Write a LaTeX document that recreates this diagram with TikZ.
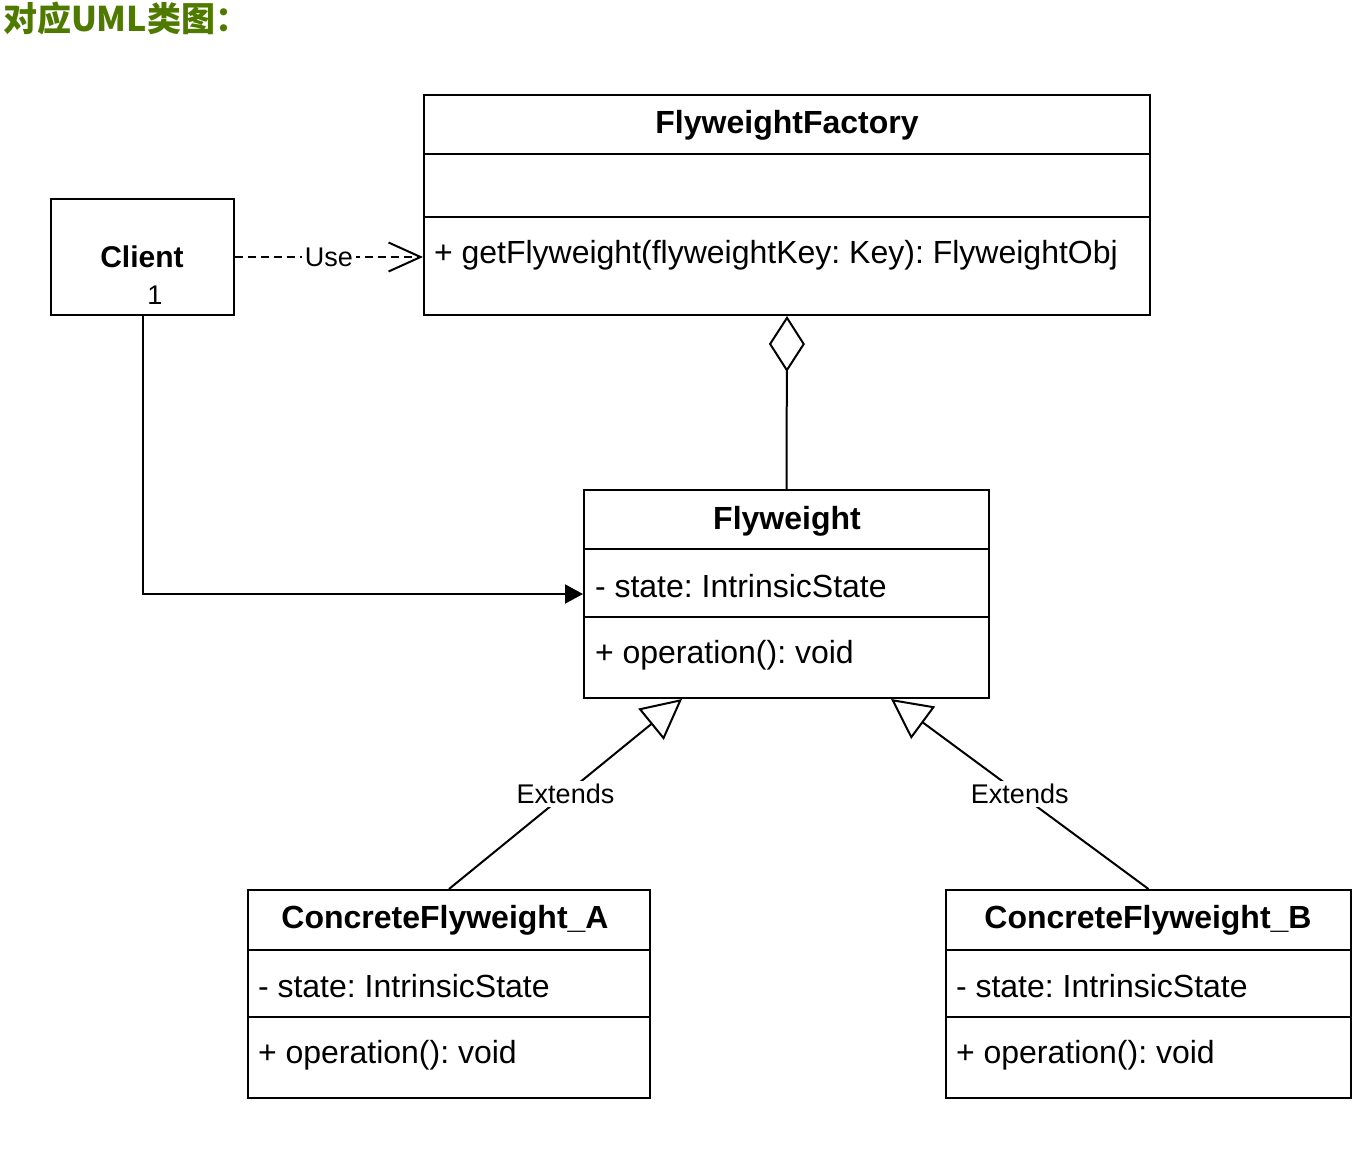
\documentclass[tikz,border=0pt]{standalone}
\usepackage{fontspec}
\setmainfont{Liberation Sans}
\newfontfamily\cjk{Noto Sans CJK SC}
\usetikzlibrary{arrows.meta}
\definecolor{titlegreen}{RGB}{79,122,0}
\frenchspacing

\begin{document}
\begin{tikzpicture}[x=1pt, y=-1pt, line width=2pt,
    classbox/.style={draw, rectangle, inner sep=0pt},
    classname/.style={inner sep=0pt, font=\fontsize{32}{38}\selectfont\bfseries},
    member/.style={anchor=west, inner sep=0pt, font=\fontsize{32}{38}\selectfont},
    edgelabel/.style={fill=white, inner sep=3pt, font=\fontsize{27}{32}\selectfont},
    usearrow/.style={dash pattern=on 8pt off 5pt, -{Straight Barb[length=32pt, width=29pt]}},
    assoc/.style={-{Triangle[length=18pt, width=19pt]}},
    agg/.style={-{Diamond[open, length=56pt, width=36pt]}},
    extends/.style={-{Triangle[open, length=40pt, width=40pt]}}]
        \useasboundingbox (0, 0) rectangle (1354, 1149);

        % Title
        \node at (2, 19) (title) [anchor=west, inner sep=0pt, text=titlegreen, font=\fontsize{34}{40}\cjk\bfseries] {对应UML类图：};

        % FlyweightFactory
        \node at (787, 205) (factory) [classbox, minimum width=726pt, minimum height=220pt] {};
        \node at (787, 125) (factoryname) [classname] {FlyweightFactory};
        \node at (433, 255) (factoryop) [member] {+ getFlyweight(flyweightKey: Key): FlyweightObj};
        \draw ([yshift=-60pt]factory.north west) -- ([yshift=-60pt]factory.north east);
        \draw ([yshift=-123pt]factory.north west) -- ([yshift=-123pt]factory.north east);

        % Client
        \node at (142.5, 257) (client) [classbox, minimum width=183pt, minimum height=116pt] {};
        \node at (142, 257) (clientname) [classname, font=\fontsize{30}{36}\selectfont\bfseries] {Client};
        \node at (155, 295) (clientmult) [inner sep=0pt, font=\fontsize{27}{32}\selectfont] {1};

        % Flyweight
        \node at (786.5, 594) (flyweight) [classbox, minimum width=405pt, minimum height=208pt] {};
        \node at (787, 521) (flyweightname) [classname] {Flyweight};
        \node at (594, 586) (flyweightstate) [member] {- state: IntrinsicState};
        \node at (594, 655) (flyweightop) [member] {+ operation(): void};
        \draw ([yshift=-60pt]flyweight.north west) -- ([yshift=-60pt]flyweight.north east);
        \draw ([yshift=-128pt]flyweight.north west) -- ([yshift=-128pt]flyweight.north east);

        % ConcreteFlyweight_A
        \node at (449, 994) (concreteA) [classbox, minimum width=402pt, minimum height=208pt] {};
        \node at (445, 920) (concreteAname) [classname] {ConcreteFlyweight\_A};
        \node at (257, 986) (concreteAstate) [member] {- state: IntrinsicState};
        \node at (257, 1055) (concreteAop) [member] {+ operation(): void};
        \draw ([yshift=-61pt]concreteA.north west) -- ([yshift=-61pt]concreteA.north east);
        \draw ([yshift=-128pt]concreteA.north west) -- ([yshift=-128pt]concreteA.north east);

        % ConcreteFlyweight_B
        \node at (1148.5, 994) (concreteB) [classbox, minimum width=405pt, minimum height=208pt] {};
        \node at (1148, 920) (concreteBname) [classname] {ConcreteFlyweight\_B};
        \node at (955, 986) (concreteBstate) [member] {- state: IntrinsicState};
        \node at (955, 1055) (concreteBop) [member] {+ operation(): void};
        \draw ([yshift=-61pt]concreteB.north west) -- ([yshift=-61pt]concreteB.north east);
        \draw ([yshift=-128pt]concreteB.north west) -- ([yshift=-128pt]concreteB.north east);

        % Relations
        \coordinate (fwA) at ([xshift=99pt]flyweight.south west);
        \coordinate (fwB) at ([xshift=-99pt]flyweight.south east);
        \draw[usearrow] (client.east) -- (client.east -| factory.west) node[midway, edgelabel] {Use};
        \draw[assoc] (client.south) |- (flyweight.west);
        \draw[agg] (flyweight.north) -- (factory.south);
        \draw[extends] (concreteA.north) -- (fwA) node[midway, edgelabel] {Extends};
        \draw[extends] (concreteB.north) -- (fwB) node[midway, edgelabel] {Extends};
    \end{tikzpicture}
\end{document}
